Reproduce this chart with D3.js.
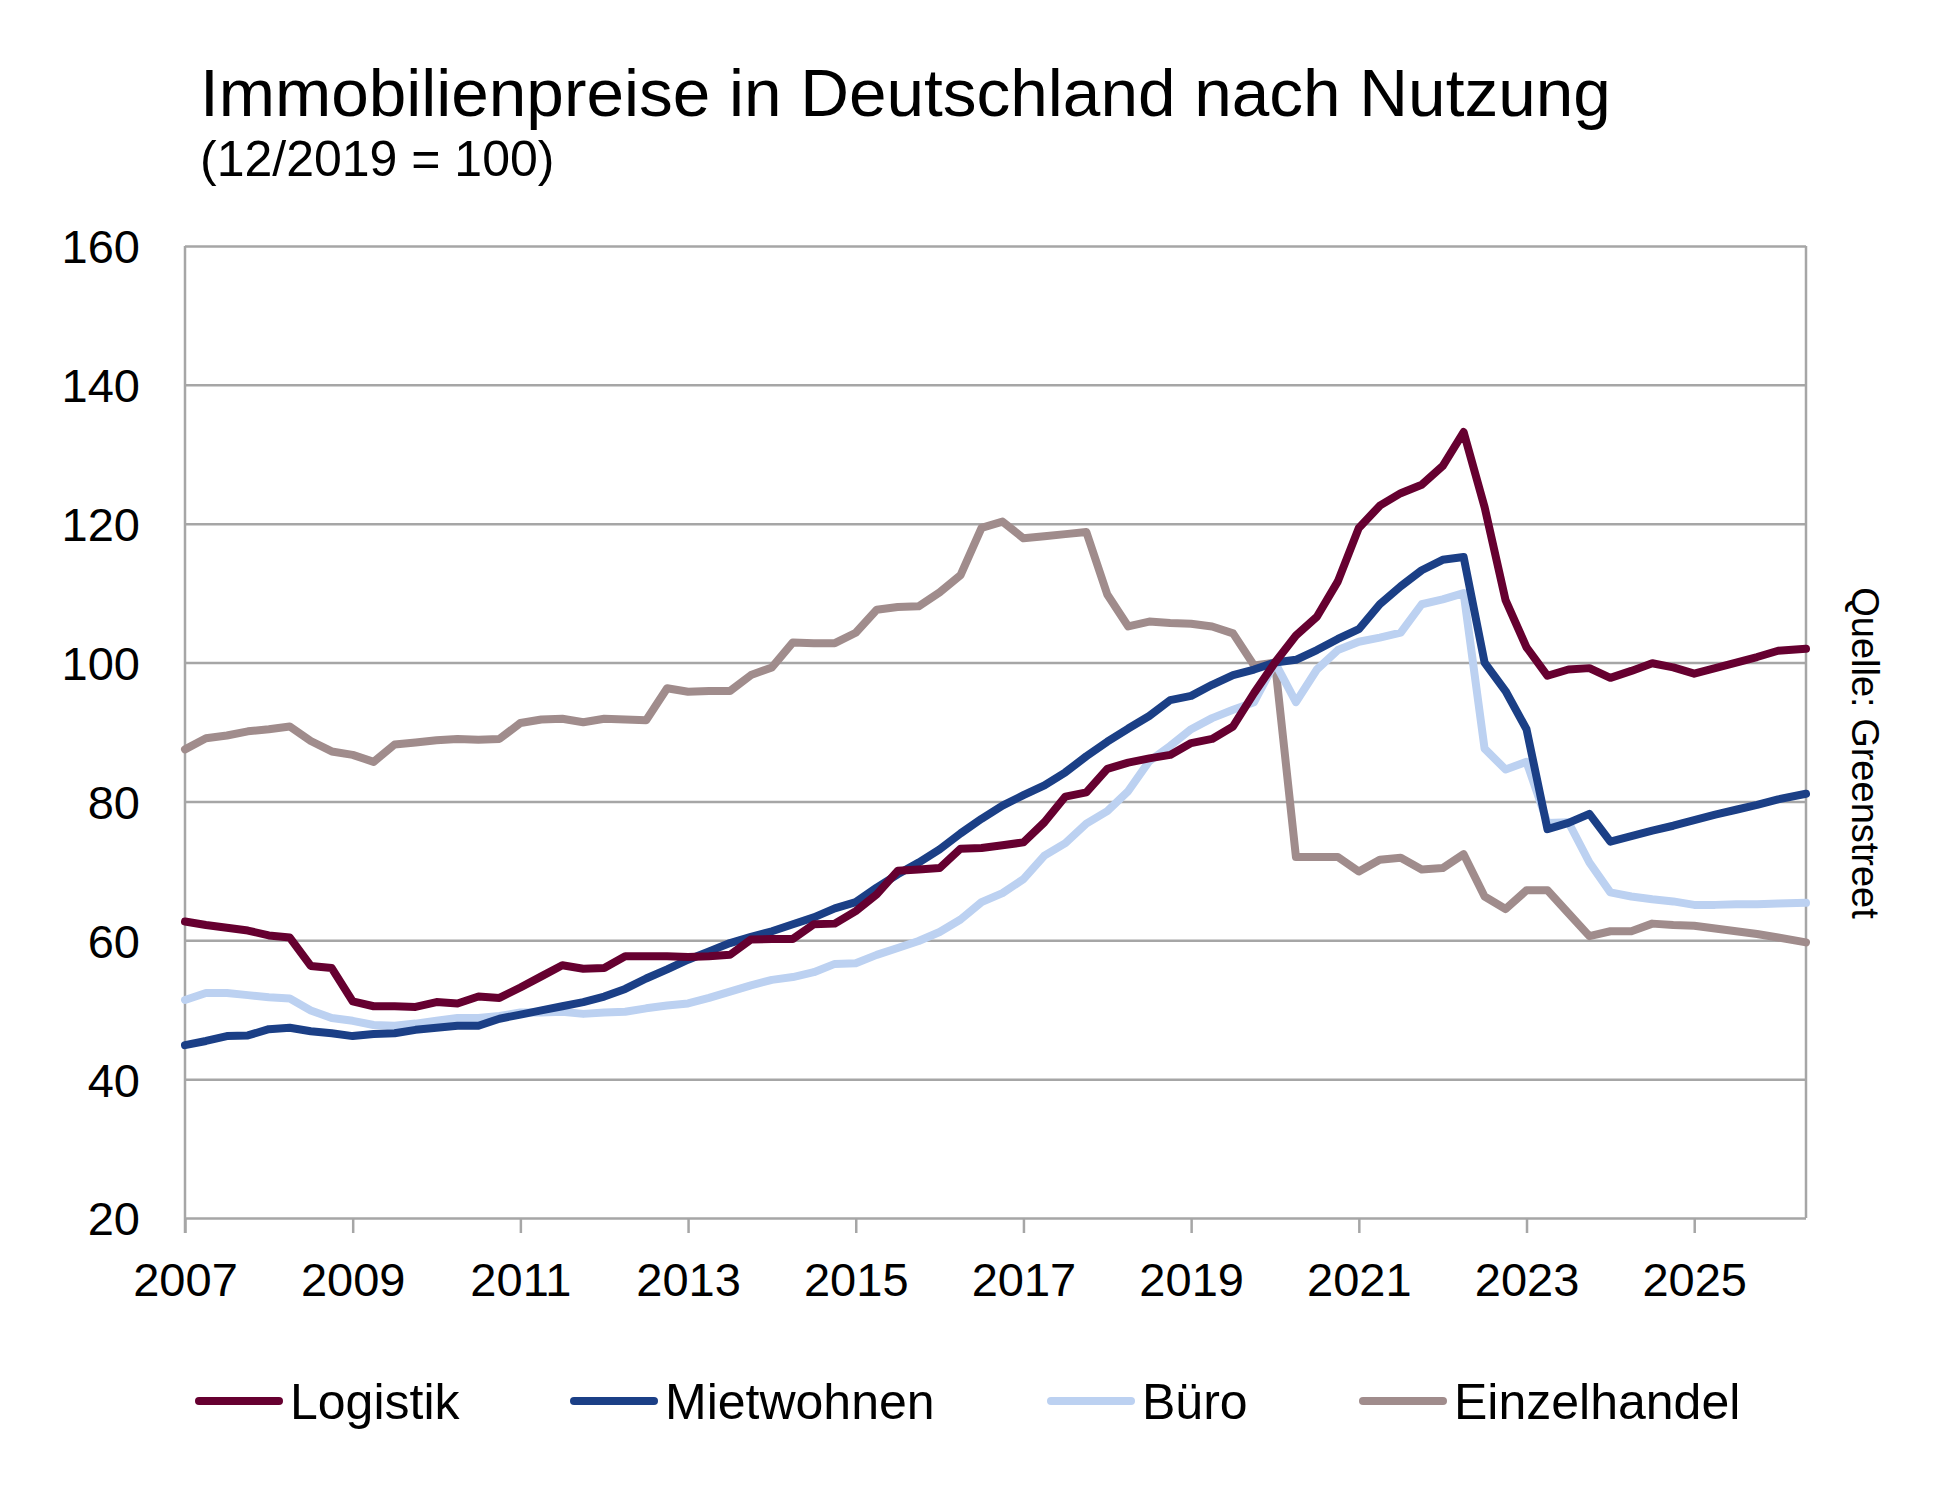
<!DOCTYPE html>
<html>
<head>
<meta charset="utf-8">
<script src="https://cdn.jsdelivr.net/npm/d3@7"></script>
<style>
  body { margin: 0; background: #fff; }
  svg text { font-family: "Liberation Sans", Arial, sans-serif; fill: #000; }
</style>
</head>
<body>
<script>
// quarterly points from 2007 to 2026, last value is a later (April 2026) reading
var periods = d3.range(77).map(function(i) { return 2007 + i / 4; }).concat([2026 + 4 / 12]);

var logistik = [62.7, 62.2, 61.8, 61.4, 60.7, 60.4, 56.3, 56.0, 51.2, 50.5,
  50.5, 50.4, 51.1, 50.9, 51.9, 51.7, 53.2, 54.8, 56.4, 55.9,
  56.0, 57.7, 57.7, 57.7, 57.6, 57.7, 57.9, 60.1, 60.2, 60.2,
  62.3, 62.4, 64.2, 66.6, 70.0, 70.2, 70.4, 73.2, 73.3, 73.7,
  74.1, 77.0, 80.7, 81.3, 84.7, 85.6, 86.2, 86.7, 88.4, 89.0,
  90.8, 95.6, 100, 103.9, 106.6, 111.7, 119.4, 122.6, 124.4, 125.6,
  128.3, 133.2, 122.4, 109.0, 102.2, 98.1, 99.0, 99.2, 97.8, 98.8,
  99.9, 99.3, 98.4, 99.2, 100.0, 100.8, 101.7, 102.0];

var mietwohnen = [44.9, 45.5, 46.2, 46.3, 47.2, 47.4, 46.9, 46.6, 46.2, 46.5,
  46.6, 47.1, 47.4, 47.7, 47.7, 48.7, 49.3, 49.9, 50.5, 51.1,
  51.9, 53.0, 54.5, 55.8, 57.2, 58.4, 59.6, 60.5, 61.3, 62.3,
  63.3, 64.6, 65.5, 67.6, 69.5, 71.2, 73.1, 75.4, 77.5, 79.4,
  80.9, 82.3, 84.2, 86.5, 88.6, 90.5, 92.3, 94.6, 95.2, 96.8,
  98.2, 99.0, 100, 100.4, 101.8, 103.4, 104.8, 108.4, 111.0, 113.3,
  114.8, 115.2, 100.0, 95.9, 90.4, 76.0, 76.9, 78.2, 74.2, 75.0,
  75.8, 76.5, 77.3, 78.1, 78.8, 79.5, 80.3, 81.1];

var buero = [51.4, 52.4, 52.4, 52.1, 51.8, 51.6, 49.9, 48.8, 48.4, 47.8,
  47.7, 48.0, 48.4, 48.8, 48.8, 49.1, 49.6, 49.6, 49.7, 49.4,
  49.6, 49.7, 50.2, 50.6, 50.9, 51.7, 52.6, 53.5, 54.3, 54.7,
  55.4, 56.6, 56.7, 57.9, 58.9, 59.9, 61.2, 63.0, 65.5, 66.8,
  68.8, 72.2, 74.0, 76.8, 78.6, 81.5, 85.8, 88.0, 90.4, 92.0,
  93.2, 94.3, 100, 94.3, 99.0, 101.8, 103.0, 103.6, 104.3, 108.4,
  109.1, 110.0, 87.6, 84.6, 85.7, 76.9, 77.0, 71.2, 66.9, 66.3,
  65.9, 65.6, 65.1, 65.1, 65.2, 65.2, 65.3, 65.4];

var einzelhandel = [87.5, 89.1, 89.5, 90.1, 90.4, 90.8, 88.7, 87.2, 86.7, 85.7,
  88.2, 88.5, 88.8, 89.0, 88.9, 89.0, 91.3, 91.8, 91.9, 91.4,
  91.9, 91.8, 91.7, 96.3, 95.8, 95.9, 95.9, 98.2, 99.3, 102.9,
  102.8, 102.8, 104.3, 107.6, 108.0, 108.1, 110.1, 112.6, 119.4, 120.3,
  117.9, 118.2, 118.5, 118.8, 109.8, 105.2, 105.9, 105.7, 105.6, 105.2,
  104.2, 99.6, 100, 72.0, 72.0, 72.0, 69.9, 71.6, 71.9, 70.2,
  70.4, 72.4, 66.3, 64.5, 67.2, 67.2, 63.9, 60.6, 61.3, 61.3,
  62.4, 62.2, 62.1, 61.7, 61.3, 60.9, 60.4, 59.7];

var seriesNames = ["Logistik", "Mietwohnen", "Büro", "Einzelhandel"];
var seriesColors = ["#660030", "#1b3f86", "#bcd1f1", "#a08c8c"];
var xTicks = [2007, 2009, 2011, 2013, 2015, 2017, 2019, 2021, 2023, 2025];
var yTicks = [20, 40, 60, 80, 100, 120, 140, 160];

var W = 1960, H = 1498;
var plotL = 185, plotR = 1806, plotT = 246, plotB = 1218;
var gridColor = "#a6a6a6";

var x = d3.scaleLinear().domain([2007, 2026 + 4 / 12]).range([plotL, plotR]);
var y = d3.scaleLinear().domain([20, 160]).range([plotB, plotT]);

var svg = d3.select("body").append("svg")
  .attr("width", W).attr("height", H);

svg.append("rect").attr("width", W).attr("height", H).attr("fill", "#fff");

// title
svg.append("text").attr("x", 200).attr("y", 116)
  .style("font-size", "67.5px").text("Immobilienpreise in Deutschland nach Nutzung");
svg.append("text").attr("x", 200).attr("y", 176)
  .style("font-size", "50px").text("(12/2019 = 100)");

// y grid + labels
var yAxis = svg.append("g").attr("transform", "translate(" + plotL + ",0)")
  .call(d3.axisLeft(y).tickValues(yTicks).tickSize(-(plotR - plotL)).tickPadding(45));
yAxis.select(".domain").remove();
yAxis.selectAll("line").attr("stroke", gridColor).attr("stroke-width", 2.5);
yAxis.selectAll("text").style("font-size", "47px").attr("dy", "0.36em");

// x axis
var xAxis = svg.append("g").attr("transform", "translate(0," + plotB + ")")
  .call(d3.axisBottom(x).tickValues(xTicks).tickSize(15).tickFormat(d3.format("d")));
xAxis.select(".domain").remove();
xAxis.selectAll("line").attr("stroke", gridColor).attr("stroke-width", 2.5);
xAxis.selectAll("text").style("font-size", "47px").attr("y", 78).attr("dy", null);

// frame lines
svg.append("line").attr("x1", plotL).attr("x2", plotL).attr("y1", plotT).attr("y2", plotB + 15)
  .attr("stroke", gridColor).attr("stroke-width", 2.5);
svg.append("line").attr("x1", plotR).attr("x2", plotR).attr("y1", plotT).attr("y2", plotB)
  .attr("stroke", gridColor).attr("stroke-width", 2.5);

// lines
var allSeries = [logistik, mietwohnen, buero, einzelhandel];
var line = d3.line()
  .x(function(d, i) { return x(periods[i]); })
  .y(function(d) { return y(d); });

// draw order: Einzelhandel, Büro, Mietwohnen, Logistik on top
[3, 2, 1, 0].forEach(function(k) {
  svg.append("path")
    .datum(allSeries[k])
    .attr("d", line)
    .attr("fill", "none")
    .attr("stroke", seriesColors[k])
    .attr("stroke-width", 8)
    .attr("stroke-linejoin", "round")
    .attr("stroke-linecap", "round");
});

// source
svg.append("text")
  .attr("transform", "translate(1852,753) rotate(90)")
  .attr("text-anchor", "middle")
  .style("font-size", "38px")
  .text("Quelle: Greenstreet");

// legend
var legendX = [199, 574, 1051, 1363];
var legend = svg.selectAll(".legend").data(seriesNames).enter().append("g")
  .attr("class", "legend")
  .attr("transform", function(d, i) { return "translate(" + legendX[i] + ",1401)"; });
legend.append("line").attr("x1", 0).attr("x2", 80).attr("y1", 0).attr("y2", 0)
  .attr("stroke", function(d, i) { return seriesColors[i]; })
  .attr("stroke-width", 8).attr("stroke-linecap", "round");
legend.append("text").attr("x", 91).attr("y", 18)
  .style("font-size", "50px").text(function(d) { return d; });
</script>
</body>
</html>
